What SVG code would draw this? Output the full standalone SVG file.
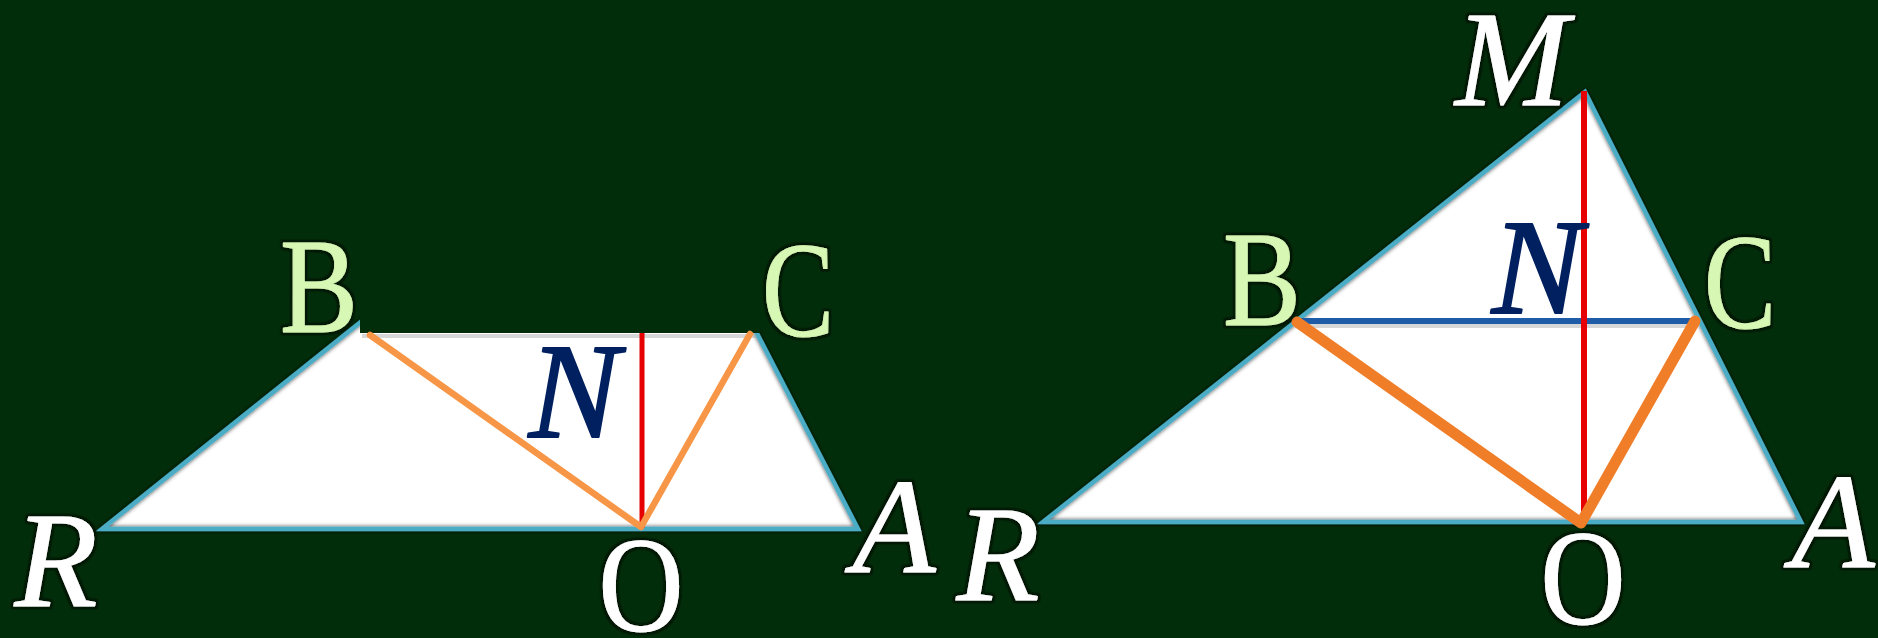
<svg xmlns="http://www.w3.org/2000/svg" width="1878" height="638" viewBox="0 0 1878 638">
<defs>
  <filter id="glow" x="-10%" y="-10%" width="120%" height="120%">
    <feMorphology in="SourceAlpha" operator="dilate" radius="2" result="d"/>
    <feGaussianBlur in="d" stdDeviation="1" result="b"/>
    <feFlood flood-color="#000c00" flood-opacity="0.85"/>
    <feComposite in2="b" operator="in" result="s"/>
    <feMerge><feMergeNode in="s"/><feMergeNode in="SourceGraphic"/></feMerge>
  </filter>
  <filter id="lineglow" x="-5%" y="-5%" width="110%" height="110%">
    <feGaussianBlur in="SourceAlpha" stdDeviation="2" result="b"/>
    <feFlood flood-color="#000000" flood-opacity="0.8"/>
    <feComposite in2="b" operator="in" result="s"/>
    <feMerge><feMergeNode in="s"/><feMergeNode in="SourceGraphic"/></feMerge>
  </filter>
</defs>
<style>
.bg{fill:#022d0a}
.tri{fill:#ffffff}
.edge{fill:none;stroke:#4bacc6;stroke-width:4.5;stroke-linejoin:miter}
.red{stroke:#e60000;fill:none}
.orange1{stroke:#f79646;stroke-width:6.5;fill:none;stroke-linecap:round;stroke-linejoin:round}
.orange2{stroke:#f07d28;stroke-width:11;fill:none;stroke-linecap:round;stroke-linejoin:round}
.lbl{font-family:"Liberation Serif",serif;font-size:136px;stroke-width:1;stroke-linejoin:round;filter:url(#glow)}
.it{font-style:italic}
.w{fill:#ffffff;stroke:#ffffff}
.g{fill:#d7f7b5;stroke:#d7f7b5}
.n{fill:#002060;stroke:#002060;stroke-width:2;filter:none}
.shade{stroke:#9a9a9a;stroke-opacity:0.4;stroke-width:4;fill:none}
</style>
<rect class="bg" x="0" y="0" width="1878" height="638"/>

<g id="figure-left">
  <polygon class="tri" points="102,529 637,101 858,529"/>
  <polygon class="edge" filter="url(#lineglow)" points="102,529 637,101 858,529"/>
  <rect class="bg" x="360" y="0" width="400" height="333"/>
  <line class="shade" x1="362" y1="336" x2="756" y2="336"/>
  <g id="left-connectors">
    <line class="red" stroke-width="5" x1="642" y1="333" x2="642" y2="528"/>
    <polyline class="orange1" points="370,335 641,527 750,334"/>
  </g>
  <g id="left-labels">
    <text class="lbl g" x="319" y="332" text-anchor="middle" textLength="78" lengthAdjust="spacingAndGlyphs">B</text>
    <text class="lbl g" x="798" y="336" text-anchor="middle" textLength="72" lengthAdjust="spacingAndGlyphs">C</text>
    <text class="lbl it n" x="574" y="437" text-anchor="middle">N</text>
    <text class="lbl it w" x="56" y="606" text-anchor="middle">R</text>
    <text class="lbl w" x="641" y="631" text-anchor="middle" textLength="85" lengthAdjust="spacingAndGlyphs">O</text>
    <text class="lbl it w" x="894" y="572" text-anchor="middle">A</text>
  </g>
</g>

<g id="figure-right">
  <polygon class="tri" points="1043,522 1585,92 1801,522"/>
  <polygon class="edge" filter="url(#lineglow)" points="1043,522 1585,92 1801,522"/>
  <g id="right-connectors">
    <line class="shade" x1="1303" y1="326" x2="1690" y2="326"/>
    <line stroke="#1f5ca8" stroke-width="6" x1="1300" y1="321" x2="1694" y2="321"/>
    <line class="red" stroke-width="6" x1="1584" y1="91" x2="1584" y2="524"/>
    <polyline class="orange2" points="1297,322 1581,523 1695,321"/>
  </g>
  <g id="right-labels">
    <text class="lbl it w" x="1512" y="105" text-anchor="middle">M</text>
    <text class="lbl g" x="1262" y="325" text-anchor="middle" textLength="78" lengthAdjust="spacingAndGlyphs">B</text>
    <text class="lbl it n" x="1537" y="313" text-anchor="middle">N</text>
    <text class="lbl g" x="1740" y="328" text-anchor="middle" textLength="72" lengthAdjust="spacingAndGlyphs">C</text>
    <text class="lbl it w" x="998" y="600" text-anchor="middle">R</text>
    <text class="lbl w" x="1583" y="624" text-anchor="middle" textLength="85" lengthAdjust="spacingAndGlyphs">O</text>
    <text class="lbl it w" x="1833" y="567" text-anchor="middle">A</text>
  </g>
</g>
</svg>
